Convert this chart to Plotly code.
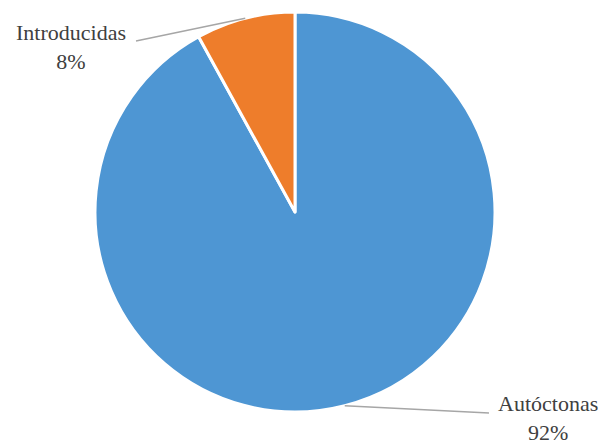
import math
import plotly.graph_objects as go

labels = ["Autóctonas", "Introducidas"]
values = [92, 8]
pct_text = ["92%", "8%"]
colors = ["#4E96D3", "#EE7D2B"]

W, H = 604, 444
cx, cy, R = 295, 212, 200

fig = go.Figure(go.Pie(
    labels=labels, values=values, sort=False, direction="clockwise",
    rotation=0, textinfo="none", hoverinfo="label+percent",
    marker=dict(colors=colors, line=dict(color="white", width=3)),
    domain=dict(x=[(cx - R) / W, (cx + R) / W], y=[1 - (cy + R) / H, 1 - (cy - R) / H]),
    showlegend=False,
))

# leader line ends and label block centres (pixels)
line_ends = [(489, 413), (136, 41)]
label_pos = [(548, 418), (71, 47)]

total = sum(values)
cum = 0
shapes, annots = [], []
font = dict(family="Times New Roman, Liberation Serif, serif", size=22, color="#404040")
for i, v in enumerate(values):
    mid = (cum + v / 2) / total * 2 * math.pi
    cum += v
    px = cx + R * math.sin(mid)
    py = cy - R * math.cos(mid)
    ex, ey = line_ends[i]
    shapes.append(dict(type="line", xref="paper", yref="paper",
                       x0=px / W, y0=1 - py / H, x1=ex / W, y1=1 - ey / H,
                       line=dict(color="#A6A6A6", width=1.5)))
    tx, ty = label_pos[i]
    annots.append(dict(text=f"{labels[i]}<br>{pct_text[i]}", x=tx / W, y=1 - ty / H,
                       xref="paper", yref="paper", xanchor="center", yanchor="middle",
                       align="center", showarrow=False, font=font))

fig.update_layout(width=W, height=H, margin=dict(l=0, r=0, t=0, b=0),
                  paper_bgcolor="white", plot_bgcolor="white",
                  shapes=shapes, annotations=annots)
fig.write_html("out.html", config={"displayModeBar": False},
               post_script="document.body.style.margin='0';")
